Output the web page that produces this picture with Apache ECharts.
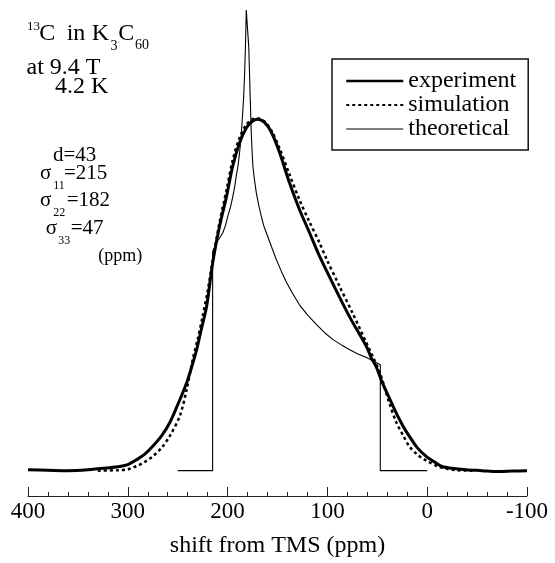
<!DOCTYPE html>
<html>
<head>
<meta charset="utf-8">
<script src="https://cdn.jsdelivr.net/npm/echarts@6/dist/echarts.min.js"></script>
<style>html,body{margin:0;padding:0;background:#fff}#c{width:555px;height:563px}</style>
</head>
<body>
<div id="c"></div>
<script>
// ---- data (shift in ppm, intensity in arbitrary units) ----
const expShift = [400,380,360,340,320,308,300,291,283,275,266,258,250,241,236,231,226,221,215,208,201,195,188,181,175,170,163,156,148,138,128,118,108,95,78,61,56,51,45,38,31,24,18,10,1,-8,-15,-25,-39,-55,-70,-85,-100];
const expIntensity = [0.2,0.1,0.0,0.2,0.6,0.9,1.3,2.4,3.6,5.3,7.6,10.4,14.3,19.1,22.5,26.3,31.0,35.7,45.0,53.1,59.6,66.0,71.2,74.5,75.9,76.3,75.6,73.4,69.1,62.5,56.7,51.7,46.6,40.8,33.5,27.0,24.5,22.5,19.1,15.8,12.5,9.6,7.5,5.0,3.1,1.8,0.9,0.5,0.2,0.0,-0.2,-0.1,0.0];

const simShift = [330,310,300,291,283,275,266,258,248,241,235,230,225,220,215,208,201,195,188,181,175,170,163,156,148,138,128,118,108,101,88,75,61,55,47,38,31,24,18,10,1,-10,-20,-30,-45];
const simIntensity = [0.0,0.1,0.3,1.0,1.9,3.1,5.0,7.5,11.8,17.6,24.1,28.5,33.5,39.0,45.5,54.0,61.0,67.3,72.3,75.2,76.3,76.5,75.8,73.8,70.0,64.3,58.8,54.0,49.5,46.0,40.1,34.3,27.8,25.0,21.0,14.7,10.5,7.6,5.3,3.5,2.2,1.0,0.4,0.1,0.0];

const theoShift = [250,215,215,213,211.3,208,204.7,202,199.7,197,194.7,193,191.3,189.5,188,186.5,185.3,184,183,182,181.3,179.7,178.8,178,177.3,176.3,175.5,174.7,173,171.3,169,166.3,164,161.3,156,151.3,146,141.3,135,128,120,111.3,103,94.7,86,78,70,61.3,54,47,47,0];
const theoIntensity = [0,0,47.6,48.5,49.5,50.5,51.7,53.3,55.3,57.3,59.6,61.5,64,66.3,69,72.3,76.3,80.7,86,93,100,100,92,86,80.7,73.4,69.5,66.2,63,60.4,57.8,55.3,53.3,51.7,48.6,45.9,43.2,41,38.5,36,33.8,31.8,30,28.5,27.3,26.3,25.4,24.6,23.8,23,0,0];

const seriesNames = ['experiment','simulation','theoretical'];
const axisTitle = 'shift from TMS (ppm)';

const pairs = (xs, ys) => xs.map((x, i) => [x, ys[i]]);
const SERIF = '"Liberation Serif", "Times New Roman", serif';

const lineStyles = [
  { color: '#000', width: 3 },
  { color: '#000', width: 2.5, type: [3, 3] },
  { color: '#000', width: 1.1 }
];

function txt(text, x, y, size) {
  return {
    type: 'text', x: x, y: y, silent: true,
    style: { text: text, fontSize: size, fontFamily: SERIF, fill: '#000',
      align: 'left', textAlign: 'left', verticalAlign: 'middle', textVerticalAlign: 'middle' }
  };
}

const chart = echarts.init(document.getElementById('c'));
chart.setOption({
  animation: false,
  backgroundColor: '#fff',
  grid: { left: 28, right: 28, top: 10, bottom: 67 },
  xAxis: {
    type: 'value', min: -100, max: 400, interval: 100, inverse: true,
    name: axisTitle, nameLocation: 'middle', nameGap: 38,
    nameTextStyle: { fontSize: 24, fontFamily: SERIF, color: '#000' },
    axisLine: { show: true, onZero: false, lineStyle: { color: '#222', width: 1 } },
    axisTick: { show: true, inside: true, length: 9, lineStyle: { color: '#222', width: 1 } },
    minorTick: { show: true, splitNumber: 5, length: 4, lineStyle: { color: '#222', width: 1 } },
    splitLine: { show: false }, minorSplitLine: { show: false },
    axisLabel: { fontSize: 23, fontFamily: SERIF, color: '#000', margin: 4, showMinLabel: true, showMaxLabel: true }
  },
  yAxis: { type: 'value', min: -5.5, max: 100, show: false, splitLine: { show: false } },
  legend: {
    data: seriesNames.map((n, i) => ({ name: n, lineStyle: Object.assign({}, lineStyles[i], { width: [2.5, 2.2, 1.1][i] }) })),
    orient: 'vertical', left: 332, top: 59,
    padding: [10, 12, 9, 13], itemGap: 0, itemWidth: 57, itemHeight: 14,
    borderColor: '#111', borderWidth: 1.5, backgroundColor: '#fff',
    itemStyle: { opacity: 0 },
    textStyle: { fontSize: 24, fontFamily: SERIF, color: '#000' }
  },
  series: [
    { type: 'line', name: seriesNames[0], data: pairs(expShift, expIntensity), symbol: 'none', smooth: 0.3, z: 4,
      lineStyle: lineStyles[0], itemStyle: { color: '#000' } },
    { type: 'line', name: seriesNames[1], data: pairs(simShift, simIntensity), symbol: 'none', smooth: 0.3, z: 3,
      lineStyle: lineStyles[1], itemStyle: { color: '#000' } },
    { type: 'line', name: seriesNames[2], data: pairs(theoShift, theoIntensity), symbol: 'none', smooth: false, z: 2,
      lineStyle: lineStyles[2], itemStyle: { color: '#000' } }
  ],
  graphic: [
    txt('13', 27, 26.3, 13),
    txt('C', 39.3, 33.4, 24),
    txt('in', 66.7, 33.4, 24),
    txt('K', 91.7, 33.4, 24),
    txt('3', 110.5, 46.2, 14),
    txt('C', 118.3, 33.4, 24),
    txt('60', 135, 45.7, 14),
    txt('at 9.4 T', 26.5, 67.5, 24),
    txt('4.2 K', 55, 86.3, 24),
    txt('d=43', 53, 155, 21),
    txt('σ', 40, 173.3, 21), txt('11', 53.3, 185.5, 12), txt('=215', 64, 173.3, 21),
    txt('σ', 40, 200, 21), txt('22', 53.3, 212.5, 12), txt('=182', 66.7, 200, 21),
    txt('σ', 45.7, 228.3, 21), txt('33', 58.3, 240.8, 12), txt('=47', 70.7, 228.3, 21),
    txt('(ppm)', 98.3, 256.6, 18)
  ]
});
</script>
</body>
</html>
